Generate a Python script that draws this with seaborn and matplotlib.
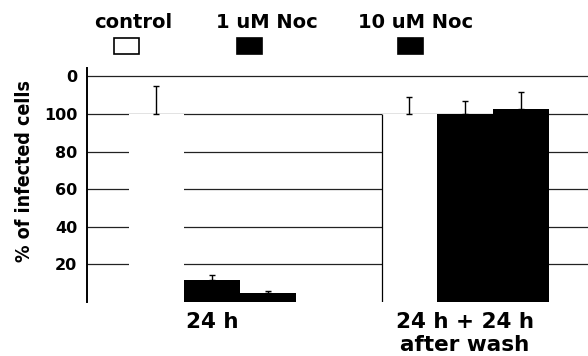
import seaborn as sns
import matplotlib.pyplot as plt
import matplotlib.patches as mpatches
import pandas as pd

# data
times = ["24 h", "24 h + 24 h\nafter wash"]
treatments = ["control", "1 uM Noc", "10 uM Noc"]
control = [100, 100]
noc1 = [11.7, 100]
noc10 = [4.8, 102.7]
err_control = [15, 9]
err_noc1 = [2.7, 7]
err_noc10 = [1.1, 9]

ytick_vals = [20, 40, 60, 80, 100, 120]
ytick_labels = ["20", "40", "60", "80", "100", "0"]

df = pd.DataFrame({
    "time": times * 3,
    "treatment": [t for t in treatments for _ in times],
    "value": control + noc1 + noc10,
})
errs = [err_control, err_noc1, err_noc10]

sns.set_theme(style="white", rc={"text.color": "black", "axes.labelcolor": "black",
                                 "xtick.color": "black", "ytick.color": "black"})
plt.rcParams["font.family"] = ["DejaVu Sans"]
plt.rcParams["font.weight"] = "bold"

fig = plt.figure(figsize=(5.88, 3.56), dpi=100)
ax = fig.add_axes([0.148, 0.152, 0.852, 0.657])

pal = {"control": "white", "1 uM Noc": "black", "10 uM Noc": "black"}
sns.barplot(data=df, x="time", y="value", hue="treatment", hue_order=treatments,
            palette=pal, width=0.66, errorbar=None, legend=False,
            saturation=1, linewidth=0, zorder=3, ax=ax)

# one-sided error bars on top of each bar
for cont, e in zip(ax.containers, errs):
    xs = [b.get_x() + b.get_width() / 2 for b in cont]
    hs = [b.get_height() for b in cont]
    ax.errorbar(xs, hs, yerr=[[0] * len(e), e], fmt="none", ecolor="black",
                elinewidth=1, capsize=2, capthick=1, zorder=4)

# left edge of the second control bar
b = ax.containers[0][1]
ax.vlines(b.get_x(), 0, b.get_height(), color="black", lw=0.9, zorder=4)

ax.set_xlim(-0.494, 1.486)
ax.set_ylim(0, 124.5)
ax.set_yticks(ytick_vals)
ax.set_yticklabels(ytick_labels, fontsize=11.5, fontweight="bold")
ax.yaxis.grid(True, color="#222222", lw=0.9, zorder=0)
ax.tick_params(axis="y", length=0, pad=7)
ax.tick_params(axis="x", length=0, pad=7, labelsize=15.5)
for lab in ax.get_xticklabels():
    lab.set_fontweight("bold")
    lab.set_linespacing(1.2)
ax.set_xlabel("")
ax.set_ylabel("% of infected cells", fontsize=14, fontweight="bold",
              family=["DejaVu Sans Condensed", "DejaVu Sans"],
              fontstretch="condensed")
ax.yaxis.set_label_coords(-0.106, 0.56)

for s in ["top", "right", "bottom"]:
    ax.spines[s].set_visible(False)
ax.spines["left"].set_color("black")
ax.spines["left"].set_linewidth(1.4)

# legend drawn above the axes: label over a square swatch
leg_x = [0.226, 0.454, 0.706]
box_x = [0.215, 0.424, 0.698]
for tx, bx, t in zip(leg_x, box_x, treatments):
    fig.text(tx, 0.921, t, ha="center", va="baseline", fontsize=14,
             fontweight="bold")
    fig.add_artist(mpatches.Rectangle((bx - 0.021, 0.848), 0.042, 0.046,
                                      transform=fig.transFigure,
                                      facecolor=pal[t], edgecolor="black",
                                      lw=1.2))

fig.savefig("out.png", dpi=100)
